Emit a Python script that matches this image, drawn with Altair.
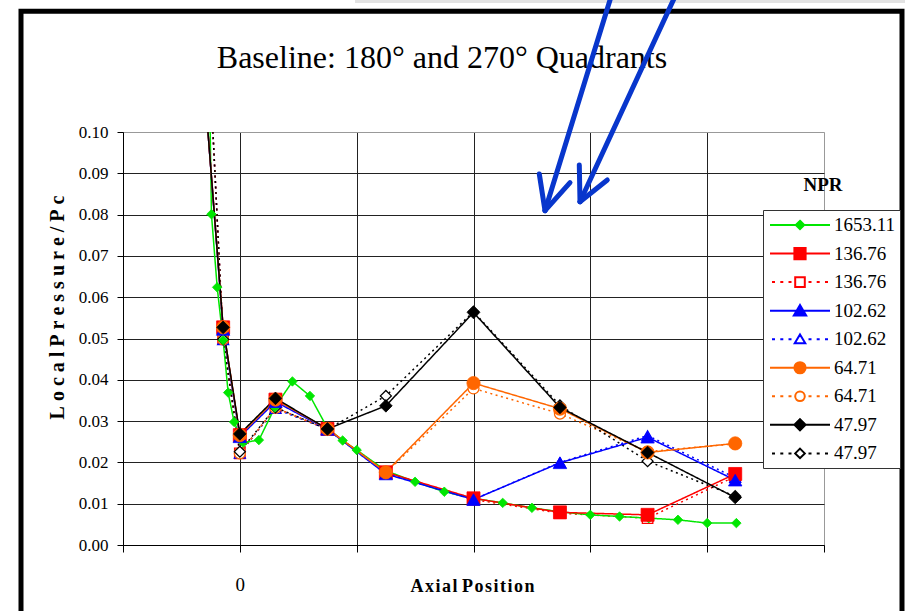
import altair as alt
import pandas as pd

# ---------------- data ----------------
series_keys = ["1653.11", "136.76", "136.76|d", "102.62", "102.62|d",
               "64.71", "64.71|d", "47.97", "47.97|d"]

green_x = [-0.28, -0.243, -0.194, -0.143, -0.100, -0.049, 0.028, 0.163, 0.30, 0.45,
           0.60, 0.75, 0.88, 1.00, 1.25, 1.50, 1.75, 2.00, 2.25, 2.50, 2.75, 3.00,
           3.25, 3.50, 3.75, 4.00, 4.25]
green_y = [0.150, 0.0801, 0.0624, 0.0496, 0.0369, 0.0298, 0.0248, 0.0254, 0.0333, 0.0396,
           0.0361, 0.0283, 0.0253, 0.0230, 0.0180, 0.0153, 0.0129, 0.0113, 0.0102, 0.0090,
           0.0080, 0.0073, 0.0069, 0.0065, 0.0061, 0.0053, 0.0053]

main_x = [-0.30, -0.143, 0.0, 0.305, 0.75, 1.25, 2.0, 2.74, 3.49, 4.24]
red_solid = [0.110, 0.0527, 0.0266, 0.0352, 0.0281, 0.0176, 0.0113, 0.0079, 0.0073, 0.0172]
red_dotted = [0.140, 0.0500, 0.0222, 0.0332, 0.0280, 0.0175, 0.0110, 0.0077, 0.0065, 0.0166]
blue_solid = [0.110, 0.0522, 0.0262, 0.0347, 0.0280, 0.0172, 0.0110, 0.0199, 0.0261, 0.0157]
blue_dotted = [0.140, 0.0497, 0.0222, 0.0330, 0.0280, 0.0173, 0.0110, 0.0200, 0.0265, 0.0163]
orange_solid = [0.110, 0.0527, 0.0266, 0.0352, 0.0281, 0.0176, 0.0392, 0.0330, 0.0224, 0.0246]
orange_dotted = [0.140, 0.0498, 0.0222, 0.0332, 0.0280, 0.0175, 0.0379, 0.0318, 0.0226, 0.0245]
black_solid = [0.110, 0.0527, 0.0269, 0.0355, 0.0281, 0.0337, 0.0563, 0.0333, 0.0224, 0.0115]
black_dotted = [0.140, 0.0498, 0.0226, 0.0333, 0.0280, 0.0361, 0.0565, 0.0338, 0.0203, 0.0118]

y_ticks = [0.00, 0.01, 0.02, 0.03, 0.04, 0.05, 0.06, 0.07, 0.08, 0.09, 0.10]
x_ticks = [-1, 0, 1, 2, 3, 4, 5]

# ---------------- table ----------------
series_values = {
    "1653.11": (green_x, green_y),
    "136.76": (main_x, red_solid),
    "136.76|d": (main_x, red_dotted),
    "102.62": (main_x, blue_solid),
    "102.62|d": (main_x, blue_dotted),
    "64.71": (main_x, orange_solid),
    "64.71|d": (main_x, orange_dotted),
    "47.97": (main_x, black_solid),
    "47.97|d": (main_x, black_dotted),
}
rows = []
for key in series_keys:
    xs, ys = series_values[key]
    for xv, yv in zip(xs, ys):
        rows.append({"series": key, "x": xv, "y": yv})
df = pd.DataFrame(rows)

# ---------------- styles ----------------
GREEN, RED, BLUE, ORANGE, BLACK = "#00e600", "#ff0000", "#0000ff", "#ff6600", "#000000"
SOLID, DOT = [1, 0], [2, 3.5]
style = {
    "1653.11": dict(color=GREEN, shape="diamond", size=90, open=False, dash=SOLID),
    "136.76": dict(color=RED, shape="square", size=169, open=False, dash=SOLID),
    "136.76|d": dict(color=RED, shape="square", size=110, open=True, dash=DOT),
    "102.62": dict(color=BLUE, shape="triangle-up", size=180, open=False, dash=SOLID),
    "102.62|d": dict(color=BLUE, shape="triangle-up", size=120, open=True, dash=DOT),
    "64.71": dict(color=ORANGE, shape="circle", size=175, open=False, dash=SOLID),
    "64.71|d": dict(color=ORANGE, shape="circle", size=120, open=True, dash=DOT),
    "47.97": dict(color=BLACK, shape="diamond", size=160, open=False, dash=SOLID),
    "47.97|d": dict(color=BLACK, shape="diamond", size=120, open=True, dash=DOT),
}
# drawing order seen in the reference: open-marker series, then green, then filled ones
draw_order = ["136.76|d", "102.62|d", "64.71|d", "47.97|d", "1653.11",
              "136.76", "102.62", "64.71", "47.97"]

colors = [style[k]["color"] for k in series_keys]
fills = ["white" if style[k]["open"] else style[k]["color"] for k in series_keys]

# legend symbols: line segment + marker, as SVG paths (unit = 10 px at size 400)
def marker_path(shape, r):
    if shape == "diamond":
        return f"M0,{-r}L{r},0L0,{r}L{-r},0Z"
    if shape == "square":
        return f"M{-r},{-r}H{r}V{r}H{-r}Z"
    if shape == "triangle-up":
        return f"M0,{-r}L{r * 1.1},{r * 0.85}L{-r * 1.1},{r * 0.85}Z"
    return f"M{-r},0A{r},{r},0,1,1,{r},0A{r},{r},0,1,1,{-r},0Z"

def legend_path(k):
    s = style[k]
    if s["open"]:
        r = 0.48
        line = "".join(f"M{p},0h0.3" for p in [-2.8, -1.97, -1.15, 0.85, 1.67, 2.5])
    else:
        r = 0.42 if k == "1653.11" else 0.56
        line = "M-3,0H3"
    return line + marker_path(s["shape"], r)

paths = [legend_path(k) for k in series_keys]

SERIF = "Liberation Serif"

xscale = alt.Scale(domain=[-1, 5], nice=False, zero=False)
yscale = alt.Scale(domain=[0, 0.1], nice=False, zero=False)

x_axis = alt.Axis(
    values=x_ticks, labelExpr="datum.value == 0 ? '0' : ''",
    tickSize=7, tickColor="black", domainColor="black", domainWidth=1,
    labelFont=SERIF, labelFontSize=19, labelColor="black", labelPadding=23,
    grid=True, gridColor={"condition": {"test": "datum.value >= 4.99", "value": "#999999"}, "value": "#222222"},
    gridWidth=1,
    title="A\u200ax\u200ai\u200aa\u200al P\u200ao\u200as\u200ai\u200at\u200ai\u200ao\u200an",
    titleFont=SERIF, titleFontSize=18, titleFontWeight="bold", titleColor="black",
    titleX=349, titleY=46, titleAlign="center", titleBaseline="alphabetic",
)
y_axis = alt.Axis(
    values=y_ticks, format=".2f",
    tickSize=6, tickColor="black", domainColor="black", domainWidth=1,
    labelFont=SERIF, labelFontSize=17, labelColor="black", labelPadding=9,
    grid=True, gridColor={"condition": {"test": "datum.value >= 0.0999", "value": "#999999"}, "value": "#222222"},
    gridWidth=1,
    title="\u2005".join(list("Local")) + " " + "\u2005".join(list("Pressure/Pc")),
    titleFont=SERIF, titleFontSize=20, titleFontWeight="bold", titleColor="black",
    titleAngle=270, titleX=-60, titleY=175, titleAlign="center", titleBaseline="alphabetic",
)

# axes carried by an invisible base layer
base = alt.Chart(df).mark_point(opacity=0, size=1).encode(
    x=alt.X("x:Q", scale=xscale, axis=x_axis),
    y=alt.Y("y:Q", scale=yscale, axis=y_axis),
)

series_layers = []
for k in draw_order:
    s = style[k]
    d = df[df["series"] == k]
    series_layers.append(
        alt.Chart(d).mark_line(color=s["color"], strokeDash=s["dash"], strokeWidth=1.5, clip=True)
        .encode(x=alt.X("x:Q", scale=xscale), y=alt.Y("y:Q", scale=yscale))
    )
for k in draw_order:
    s = style[k]
    d = df[df["series"] == k]
    fill = "white" if s["open"] else s["color"]
    series_layers.append(
        alt.Chart(d).mark_point(
            shape=s["shape"], size=s["size"], filled=True, fill=fill, stroke=s["color"],
            strokeWidth=1.3 if s["open"] else 0.8, opacity=1, clip=True,
        ).encode(x=alt.X("x:Q", scale=xscale), y=alt.Y("y:Q", scale=yscale))
    )

leg = alt.Legend(
    title=None, orient="none", legendX=640, legendY=78, padding=4, rowPadding=7.55,
    symbolSize=400, symbolStrokeWidth=2, symbolOffset=22, labelOffset=23,
    labelFont=SERIF, labelFontSize=19, labelColor="black",
    strokeColor="#333333", fillColor="white", cornerRadius=0,
    labelExpr="split(datum.label, '|')[0]",
)
# legend carrier: only the off-chart first point of each series, clipped away
legend_layer = alt.Chart(df).transform_filter("datum.y > 0.1").mark_point(
    filled=True, opacity=1, strokeWidth=2, clip=True
).encode(
    x=alt.X("x:Q", scale=xscale), y=alt.Y("y:Q", scale=yscale),
    shape=alt.Shape("series:N", scale=alt.Scale(domain=series_keys, range=paths), legend=leg),
    fill=alt.Fill("series:N", scale=alt.Scale(domain=series_keys, range=fills), legend=leg),
    stroke=alt.Stroke("series:N", scale=alt.Scale(domain=series_keys, range=colors), legend=leg),
)

one = alt.Data(values=[{}])
title_text = alt.Chart(one).mark_text(
    text="Baseline: 180\u00b0 and 270\u00b0 Quadrants", font=SERIF, fontSize=32,
    align="center", baseline="alphabetic", color="black",
).encode(x=alt.value(319), y=alt.value(-64))

npr_text = alt.Chart(one).mark_text(
    text="NPR", font=SERIF, fontSize=19, fontWeight="bold",
    align="center", baseline="alphabetic", color="black",
).encode(x=alt.value(700), y=alt.value(59))

frame = alt.Chart(one).mark_rect(fill="transparent", stroke="black", strokeWidth=5).encode(
    x=alt.value(-102), x2=alt.value(779), y=alt.value(-120.7), y2=alt.value(520)
)
top_strip = alt.Chart(one).mark_rect(fill="#e2e2e2").encode(
    x=alt.value(232), x2=alt.value(790), y=alt.value(-140), y2=alt.value(-129)
)

# hand-drawn blue arrows (annotation, in pixels relative to the plot area)
arrow_segments = pd.DataFrame({
    "x1": [490.1, 422.0, 422.0, 555.0, 457.0, 457.0],
    "y1": [-142.0, 78.7, 78.7, -142.0, 69.7, 69.7],
    "x2": [422.0, 416.3, 447.0, 457.0, 456.3, 484.3],
    "y2": [78.7, 42.0, 50.7, 69.7, 33.0, 48.0],
})
arrows = alt.Chart(arrow_segments).mark_rule(color="#0836cc", strokeWidth=5, strokeCap="round").encode(
    x=alt.X("x1:Q", scale=None), y=alt.Y("y1:Q", scale=None),
    x2="x2:Q", y2="y2:Q",
)

chart = alt.layer(
    top_strip, base, *series_layers, legend_layer, title_text, npr_text, frame, arrows
).properties(
    width=701, height=413,
    autosize=alt.AutoSizeParams(type="none"),
    padding={"left": 123, "top": 132, "right": 81, "bottom": 66},
).configure_view(
    stroke="#999999", strokeWidth=1.5
).configure(background="white")

chart.save("out.html", embed_options={"renderer": "svg", "actions": False})
